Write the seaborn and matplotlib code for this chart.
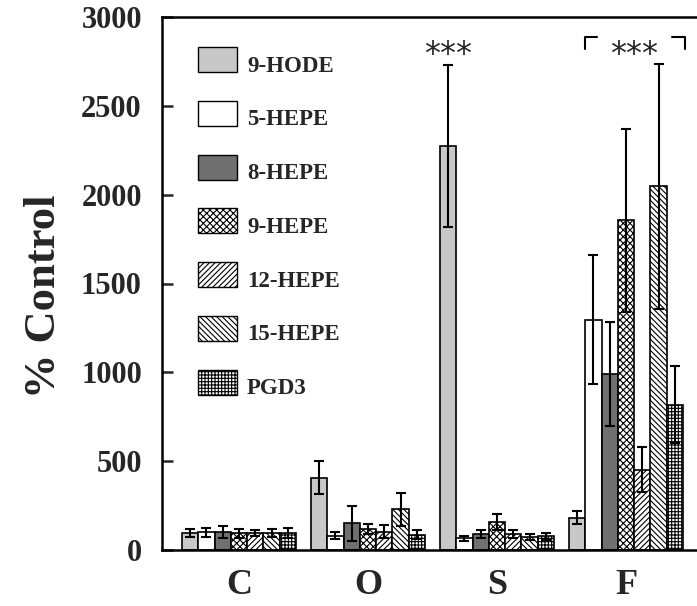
import matplotlib
matplotlib.use("Agg")
import matplotlib.pyplot as plt
import seaborn as sns
import pandas as pd
from matplotlib.patches import Rectangle

groups = ["C", "O", "S", "F"]
compounds = ["9-HODE", "5-HEPE", "8-HEPE", "9-HEPE", "12-HEPE", "15-HEPE", "PGD3"]

means_C = [95, 100, 100, 95, 95, 95, 95]
errs_C = [22, 25, 35, 25, 15, 22, 28]
means_O = [408, 80, 150, 117, 103, 229, 85]
errs_O = [93, 20, 98, 28, 36, 94, 25]
means_S = [2275, 66, 90, 155, 90, 72, 78]
errs_S = [455, 15, 25, 45, 22, 18, 20]
means_F = [181, 1297, 991, 1857, 453, 2047, 818]
errs_F = [36, 365, 295, 515, 126, 690, 217]

y_ticks = [0, 500, 1000, 1500, 2000, 2500, 3000]

colors = ["#c8c8c8", "#ffffff", "#707070", "#ffffff", "#ffffff", "#ffffff", "#ffffff"]
hatches = ["", "", "", "xxxxx", "//////", "\\\\\\\\\\\\", "+++++"]

rows = []
for g, m, e in zip(groups, [means_C, means_O, means_S, means_F], [errs_C, errs_O, errs_S, errs_F]):
    for c, mv, ev in zip(compounds, m, e):
        rows.append({"group": g, "compound": c, "value": mv, "err": ev})
df = pd.DataFrame(rows)

sns.set_style("white")
plt.rcParams["font.family"] = ["Liberation Serif", "DejaVu Serif"]
plt.rcParams["hatch.linewidth"] = 0.8

W, H = 697, 606
AX_L, AX_R, AX_T, AX_B = 162, 697, 17, 550
fig = plt.figure(figsize=(W / 100, H / 100), dpi=100)
ax = fig.add_axes([AX_L / W, 1 - AX_B / H, (AX_R - AX_L) / W, (AX_B - AX_T) / H])

sns.barplot(data=df, x="group", y="value", hue="compound", order=groups,
            hue_order=compounds, palette=colors, width=0.884, errorbar=None,
            edgecolor="black", linewidth=1.2, saturation=1, legend=False, ax=ax)

bar_containers = list(ax.containers)
for ci, cont in enumerate(bar_containers):
    sub = df[df["compound"] == compounds[ci]].set_index("group").loc[groups]
    xs = []
    for bar in cont:
        bar.set_hatch(hatches[ci])
        xs.append(bar.get_x() + bar.get_width() / 2)
    ax.errorbar(xs, sub["value"].values, yerr=sub["err"].values, fmt="none",
                ecolor="black", elinewidth=1.5, capsize=3.8, capthick=1.5, zorder=5)

ax.set_ylim(0, 3000)
ax.set_xlim(-0.597, 3.55)
ax.set_yticks(y_ticks)
ax.set_yticklabels([str(t) for t in y_ticks], fontsize=22, fontweight="bold")
ax.tick_params(axis="y", direction="in", length=8, width=1.8, pad=14.5, left=True)
ax.tick_params(axis="x", length=0, pad=14)
for lab in ax.get_xticklabels():
    lab.set_fontsize(26)
    lab.set_fontweight("bold")
ax.set_xlabel("")
ax.set_ylabel("% Control", fontsize=32, fontweight="bold")
ax.yaxis.set_label_coords((64 - AX_L) / (AX_R - AX_L), (AX_B - 296) / (AX_B - AX_T))

for s in ["left", "bottom", "top"]:
    ax.spines[s].set_visible(True)
    ax.spines[s].set_linewidth(1.8)
    ax.spines[s].set_color("black")
ax.spines["right"].set_visible(False)


def px2ax(x, y):
    return (x - AX_L) / (AX_R - AX_L), (AX_B - y) / (AX_B - AX_T)


# legend (drawn as patches + labels in axes coordinates)
for i, name in enumerate(compounds):
    top = 47 + i * 53.8
    x0, y0 = px2ax(198, top + 25)
    w = 39 / (AX_R - AX_L)
    h = 25 / (AX_B - AX_T)
    ax.add_patch(Rectangle((x0, y0), w, h, transform=ax.transAxes, facecolor=colors[i],
                           edgecolor="black", hatch=hatches[i], linewidth=1.0, zorder=6))
    tx, ty = px2ax(247, top + 24.5)
    ax.text(tx, ty, name, transform=ax.transAxes, ha="left", va="baseline",
            fontsize=16.5, fontweight="bold", zorder=6)

# significance marks
def dx(px):
    return (px - 238.7) / 129.1

ax.text(dx(448), 2740, "***", ha="center", va="baseline", fontsize=23, family="DejaVu Sans")
ax.plot([dx(585), dx(585), dx(597)], [2820, 2890, 2890], color="black", lw=1.5, clip_on=False)
ax.plot([dx(672), dx(685), dx(685)], [2890, 2890, 2820], color="black", lw=1.5, clip_on=False)
ax.text(dx(634), 2740, "***", ha="center", va="baseline", fontsize=23, family="DejaVu Sans")

fig.savefig("out.png", dpi=100)
